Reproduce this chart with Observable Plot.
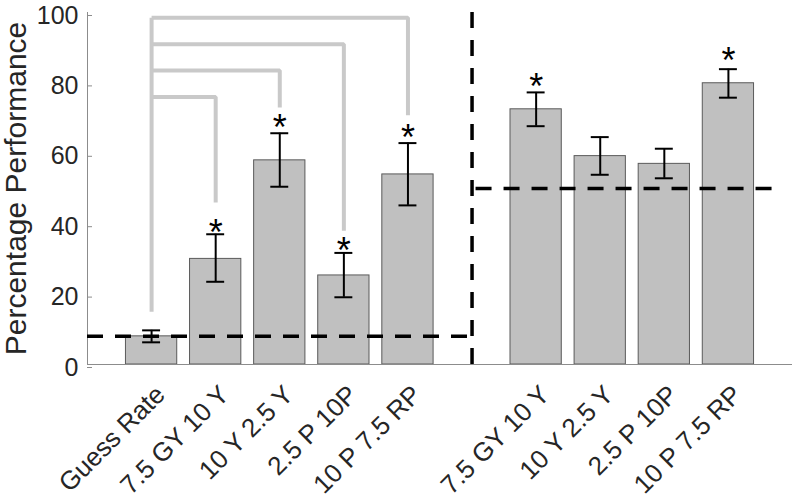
<!DOCTYPE html>
<html><head><meta charset="utf-8">
<script src="https://cdn.jsdelivr.net/npm/d3@7"></script>
<script src="https://cdn.jsdelivr.net/npm/@observablehq/plot@0.6"></script>
<style>
body{margin:0;background:#fff}
</style>
</head><body><div id="chart"></div>
<script>
// ---- data ----
const leftNames  = ["Guess Rate", "7.5 GY 10 Y", "10 Y 2.5 Y", "2.5 P 10P", "10 P 7.5 RP"];
const leftMeans  = [8, 30, 58, 25.3, 54];
const leftLow    = [6.3, 23.5, 50.5, 19.1, 45.2];
const leftHigh   = [9.7, 37, 65.7, 31.7, 62.9];
const leftStars  = [null, 40, 70, 35, 67];

const rightNames = ["7.5 GY 10 Y", "10 Y 2.5 Y", "2.5 P 10P", "10 P 7.5 RP"];
const rightMeans = [72.5, 59.2, 57, 79.9];
const rightLow   = [67.7, 53.9, 52.9, 75.8];
const rightHigh  = [77.3, 64.6, 61.3, 83.9];
const rightStars = [81.5, null, null, 89];

const chanceLeft = 8;
const chanceRight = 50;
const chanceRightEnd = 9.75;   // right chance line stops short of the axis end
const yTicks = [0, 20, 40, 60, 80, 100];

// significance brackets from "Guess Rate" to each left bar
const bracketTo    = [1, 2, 3, 4];
const bracketLevel = [76, 83.5, 91, 98.5];
const bracketEnd   = [46, 73, 38, 70.8];
const bracketBase  = 15;

const yLabel = "Percentage Performance";

// ---- build tables ----
const gapSlot = leftNames.length;               // empty slot between groups
const nSlots = leftNames.length + 1 + rightNames.length;
const bars = [];
leftNames.forEach((n, i) => bars.push({slot: i, name: n, mean: leftMeans[i], lo: leftLow[i], hi: leftHigh[i], star: leftStars[i]}));
rightNames.forEach((n, j) => bars.push({slot: gapSlot + 1 + j, name: n, mean: rightMeans[j], lo: rightLow[j], hi: rightHigh[j], star: rightStars[j]}));
const labelOf = new Map(bars.map(d => [d.slot, d.name]));
const xMin = -1, xMax = nSlots;

const bracketPts = [];
bracketTo.forEach((t, k) => {
  bracketPts.push({id: k, x: 0, y: bracketLevel[k]});
  bracketPts.push({id: k, x: t, y: bracketLevel[k]});
  bracketPts.push({id: k, x: t, y: bracketEnd[k]});
});
bracketPts.push({id: "stem", x: 0, y: bracketBase});
bracketPts.push({id: "stem", x: 0, y: d3.max(bracketLevel)});

const halfBar = 0.4, capHalf = 0.14;

const axisGray = "#8c8c8c";
const textColor = "#262626";
const dash = {stroke: "black", strokeWidth: 3.5, strokeDasharray: "16,12"};

const chart = Plot.plot({
  width: 796,
  height: 497,
  marginLeft: 87,
  marginRight: 4,
  marginTop: 12,
  marginBottom: 133,
  style: {fontFamily: "'Liberation Sans', Arial, sans-serif", background: "white", color: textColor},
  x: {domain: [xMin, xMax], axis: null},
  y: {domain: [0, 100], axis: null},
  marks: [
    Plot.line(bracketPts, {x: "x", y: "y", z: "id", stroke: "#c9c9c9", strokeWidth: 4, strokeLinejoin: "miter", strokeLinecap: "butt"}),
    Plot.rectY(bars, {x1: d => d.slot - halfBar, x2: d => d.slot + halfBar, y1: 0, y2: "mean", fill: "#c0c0c0", stroke: "#5a5a5a", strokeWidth: 1}),
    Plot.ruleY([0], {stroke: axisGray, strokeWidth: 1}),
    Plot.ruleX([xMin], {y1: 0, y2: 100, stroke: axisGray, strokeWidth: 1}),
    Plot.axisY({ticks: yTicks, tickSize: -5, tickPadding: 14, fontSize: 25, stroke: axisGray, fill: textColor, dy: 3}),
    Plot.axisX({ticks: bars.map(d => d.slot), tickFormat: s => labelOf.get(s), tickRotate: -45, tickSize: 0, fontSize: 26, fill: textColor, dx: 9, dy: 14}),
    Plot.ruleY([chanceLeft], {x1: xMin, x2: gapSlot, ...dash}),
    Plot.ruleY([chanceRight], {x1: gapSlot, x2: chanceRightEnd, ...dash, strokeDashoffset: -4}),
    Plot.ruleX([gapSlot], {y1: 0, y2: 100, ...dash}),
    Plot.ruleX(bars, {x: "slot", y1: "lo", y2: "hi", stroke: "black", strokeWidth: 2}),
    Plot.ruleY(bars, {y: "hi", x1: d => d.slot - capHalf, x2: d => d.slot + capHalf, stroke: "black", strokeWidth: 2}),
    Plot.ruleY(bars, {y: "lo", x1: d => d.slot - capHalf, x2: d => d.slot + capHalf, stroke: "black", strokeWidth: 2}),
    Plot.text(bars.filter(d => d.star != null), {x: "slot", y: "star", text: () => "*", fontSize: 36, dy: 10, fill: "black"}),
    Plot.text([yLabel], {frameAnchor: "left", text: d => d, rotate: -90, textAnchor: "middle", lineAnchor: "bottom", dx: -62, fontSize: 30, fill: textColor})
  ]
});
document.getElementById("chart").appendChild(chart);
</script>
</body></html>
